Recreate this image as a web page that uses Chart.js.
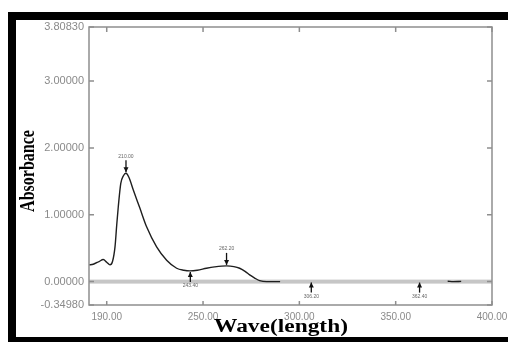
<!DOCTYPE html>
<html>
<head>
<meta charset="utf-8">
<script src="https://cdn.jsdelivr.net/npm/chart.js@4.4.1/dist/chart.umd.min.js"></script>
<style>
  html, body { margin: 0; padding: 0; background: #fff; }
  #wrap { position: relative; width: 508px; height: 342px; }
</style>
</head>
<body>
<div id="wrap"><canvas id="specChart" width="508" height="342"></canvas></div>
<script>
// spectrum (nm / absorbance)
const wavelengths = [190.8, 193.0, 196.0, 198.2, 200.0, 201.7, 203.0, 204.3, 205.2, 206.0, 207.3, 208.6, 210.0, 211.5, 213.8, 217.2, 220.7, 225.9, 231.1, 236.3, 240.0, 243.2, 247.0, 251.8, 256.0, 262.2, 266.0, 269.0, 272.0, 274.2, 277.0, 279.4, 283.0, 290.0, 300.0, 377.0, 380.0, 384.0];
const absorbance  = [0.25, 0.26, 0.30, 0.33, 0.29, 0.25, 0.30, 0.52, 0.85, 1.12, 1.47, 1.58, 1.62, 1.56, 1.37, 1.10, 0.82, 0.52, 0.32, 0.20, 0.17, 0.16, 0.17, 0.20, 0.22, 0.235, 0.225, 0.20, 0.15, 0.10, 0.05, 0.015, 0.0, 0.0, null, 0.006, 0.0, 0.003];

const xTickValues = [200, 250, 300, 350, 400];
const xTickLabels = ['190.00', '250.00', '300.00', '350.00', '400.00'];
const yTickValues = [-0.3498, 0, 1, 2, 3, 3.8083];
const yTickLabels = ['-0.34980', '0.00000', '1.00000', '2.00000', '3.00000', '3.80830'];

// peak / valley picks
const peakWl = [210.0, 262.2];
const peakAbs = [1.62, 0.235];
const peakText = ['210.00', '262.20'];
const valleyWl = [243.4, 306.2, 362.4];
const valleyAbs = [0.16, 0.0, 0.0];
const valleyText = ['243.40', '306.20', '362.40'];

const points = wavelengths.map((w, i) => ({ x: w, y: absorbance[i] }));

function arrow(ctx, x, yFrom, yTo) {
    ctx.beginPath();
    ctx.moveTo(x, yFrom);
    ctx.lineTo(x, yTo);
    ctx.stroke();
    let dir = yTo > yFrom ? 1 : -1;
    ctx.beginPath();
    ctx.moveTo(x, yTo);
    ctx.lineTo(x - 2.5, yTo - dir * 5);
    ctx.lineTo(x + 2.5, yTo - dir * 5);
    ctx.closePath();
    ctx.fill();
}

const framePlugin = {
    id: 'framePlugin',
    beforeDraw(chart) {
        let ctx = chart.ctx;
        ctx.save();
        ctx.fillStyle = '#fff';
        ctx.fillRect(0, 0, chart.width, chart.height);
        // black photo frame
        ctx.fillStyle = '#000';
        ctx.fillRect(8, 12, chart.width - 8, 8);
        ctx.fillRect(8, 12, 8, chart.height - 12);
        ctx.fillRect(8, chart.height - 5, chart.width - 8, 5);
        ctx.restore();
    },
    beforeDatasetsDraw(chart) {
        let ctx = chart.ctx, a = chart.chartArea, ys = chart.scales.y;
        let y0 = ys.getPixelForValue(0);
        ctx.save();
        ctx.fillStyle = '#c6c6c6';
        ctx.fillRect(a.left, y0 - 2, a.right - a.left, 4);
        ctx.restore();
    },
    afterDatasetsDraw(chart) {
        let ctx = chart.ctx, a = chart.chartArea;
        let xs = chart.scales.x, ys = chart.scales.y;
        ctx.save();
        // box and inner ticks
        ctx.strokeStyle = '#8e8e8e';
        ctx.lineWidth = 1.5;
        ctx.strokeRect(a.left, a.top, a.right - a.left, a.bottom - a.top);
        ctx.beginPath();
        xTickValues.forEach(v => {
            let px = xs.getPixelForValue(v);
            ctx.moveTo(px, a.bottom); ctx.lineTo(px, a.bottom - 4);
            ctx.moveTo(px, a.top); ctx.lineTo(px, a.top + 5);
        });
        yTickValues.forEach(v => {
            let py = ys.getPixelForValue(v);
            ctx.moveTo(a.left, py); ctx.lineTo(a.left + 5, py);
            ctx.moveTo(a.right, py); ctx.lineTo(a.right - 5, py);
        });
        ctx.stroke();

        // peak / valley markers
        ctx.strokeStyle = '#111';
        ctx.fillStyle = '#111';
        ctx.lineWidth = 1.3;
        ctx.font = '5px "Liberation Sans"';
        ctx.textAlign = 'center';
        ctx.textBaseline = 'middle';
        peakWl.forEach((w, i) => {
            let px = xs.getPixelForValue(w), py = ys.getPixelForValue(peakAbs[i]);
            arrow(ctx, px, py - 13, py - 1);
            ctx.fillStyle = '#666';
            ctx.fillText(peakText[i], px, py - 17);
            ctx.fillStyle = '#111';
        });
        valleyWl.forEach((w, i) => {
            let px = xs.getPixelForValue(w), py = ys.getPixelForValue(valleyAbs[i]);
            arrow(ctx, px, py + 11, py + 1);
            ctx.fillStyle = '#666';
            ctx.fillText(valleyText[i], px, py + 15);
            ctx.fillStyle = '#111';
        });

        // axis titles (stretched serif like the scan)
        ctx.fillStyle = '#000';
        ctx.textBaseline = 'alphabetic';
        ctx.font = 'bold 18px "Liberation Serif"';
        ctx.save();
        ctx.translate(281, 332);
        ctx.scale(1.3, 1);
        ctx.fillText('Wave(length)', 0, 0);
        ctx.restore();
        ctx.font = 'bold 16px "Liberation Serif"';
        ctx.save();
        ctx.translate(34, 171);
        ctx.scale(1.3, 1);
        ctx.rotate(-Math.PI / 2);
        ctx.fillText('Absorbance', 0, 0);
        ctx.restore();
        ctx.restore();
    }
};

function manageSpectrumChart() {
    let ctx = document.getElementById('specChart').getContext('2d');
    new Chart(ctx, {
        type: 'line',
        data: {
            datasets: [{
                label: 'Absorbance',
                data: points,
                borderColor: '#1e1e1e',
                borderWidth: 1.4,
                pointRadius: 0,
                cubicInterpolationMode: 'monotone',
                spanGaps: false,
                fill: false
            }]
        },
        options: {
            responsive: false,
            animation: false,
            layout: { padding: { left: 16, top: 27, right: 16, bottom: 0 } },
            plugins: { legend: { display: false }, tooltip: { enabled: false } },
            scales: {
                x: {
                    type: 'linear',
                    min: 190.8,
                    max: 400,
                    afterBuildTicks: s => { s.ticks = xTickValues.map(v => ({ value: v })); },
                    afterFit: s => { s.height = 37; s.paddingLeft = 0; s.paddingRight = 0; },
                    grid: { display: false, drawTicks: false },
                    border: { display: false },
                    ticks: {
                        padding: 6,
                        maxRotation: 0,
                        autoSkip: false,
                        color: '#8a8a8a',
                        font: { family: 'Liberation Sans', size: 10 },
                        callback: (v, i) => xTickLabels[i]
                    }
                },
                y: {
                    min: -0.3498,
                    max: 3.8083,
                    afterBuildTicks: s => { s.ticks = yTickValues.map(v => ({ value: v })); },
                    afterFit: s => { s.width = 73; },
                    grid: { display: false, drawTicks: false },
                    border: { display: false },
                    ticks: {
                        padding: 5,
                        autoSkip: false,
                        color: '#8a8a8a',
                        font: { family: 'Liberation Sans', size: 11 },
                        callback: (v, i) => yTickLabels[i]
                    }
                }
            }
        },
        plugins: [framePlugin]
    });
}

manageSpectrumChart();
</script>
</body>
</html>
